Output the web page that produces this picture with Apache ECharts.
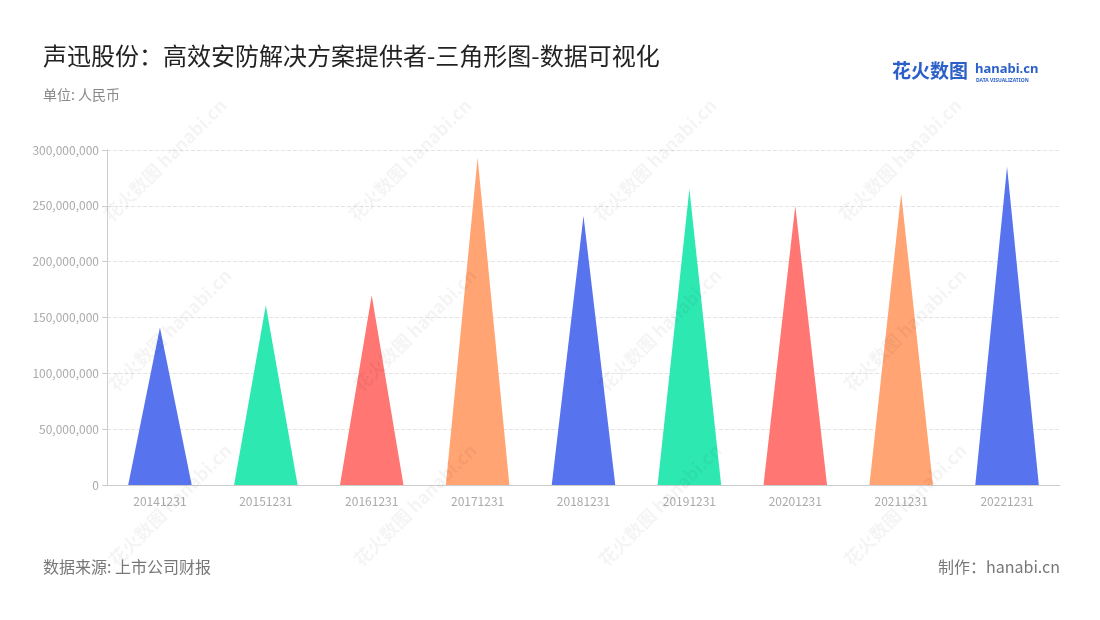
<!DOCTYPE html>
<html>
<head>
<meta charset="utf-8">
<script src="https://cdn.jsdelivr.net/npm/echarts@6/dist/echarts.min.js"></script>
<style>html,body{margin:0;padding:0;background:#fff}#main{width:1100px;height:620px}</style>
</head>
<body>
<div id="main"></div>
<script>
const categories = ['20141231','20151231','20161231','20171231','20181231','20191231','20201231','20211231','20221231'];
const values = [141000000, 161000000, 170000000, 293000000, 241000000, 265000000, 250000000, 261000000, 285000000];
const palette = ['#5773EE', '#2EE8B2', '#FF7672', '#FFA472'];

const font = '"Noto Sans CJK SC", "Noto Sans", sans-serif';
const chart = echarts.init(document.getElementById('main'));

const wm = [];
const wmPos = [[165,160],[410,160],[655,160],[900,160],[170,330],[415,330],[660,330],[905,330],[170,505],[415,505],[660,505],[905,505]];
wmPos.forEach(p => {
  wm.push({
    type: 'text', x: p[0], y: p[1], rotation: Math.PI / 4, z: 100, silent: true,
    style: { text: '花火数图 hanabi.cn', fill: 'rgba(0,0,0,0.045)', font: 'bold 18px ' + font, align: 'center', verticalAlign: 'middle' }
  });
});

chart.setOption({
  animation: false,
  backgroundColor: '#fff',
  title: [
    { text: '声迅股份：高效安防解决方案提供者-三角形图-数据可视化', left: 43, top: 44, padding: 0,
      textStyle: { fontSize: 24, fontWeight: 'normal', color: '#222', fontFamily: font } },
    { text: '单位: 人民币', left: 43, top: 88, padding: 0,
      textStyle: { fontSize: 14, fontWeight: 'normal', color: '#888', fontFamily: font } },
    { text: '数据来源: 上市公司财报', left: 43, top: 559, padding: 0,
      textStyle: { fontSize: 16, fontWeight: 'normal', color: '#777', fontFamily: font } },
    { text: '制作：hanabi.cn', right: 40, top: 559, padding: 0,
      textStyle: { fontSize: 16, fontWeight: 'normal', color: '#777', fontFamily: font } }
  ],
  graphic: wm.concat([
    { type: 'text', x: 892, y: 61, z: 110,
      style: { text: '花火数图', fill: '#2B5FC9', font: 'bold 19px ' + font } },
    { type: 'text', x: 975, y: 63, z: 110,
      style: { text: 'hanabi.cn', fill: '#2B5FC9', font: 'bold 13px "Noto Sans", sans-serif' } },
    { type: 'text', x: 976, y: 78, z: 110,
      style: { text: 'DATA VISUALIZATION', fill: '#2B5FC9', font: 'bold 5px "Noto Sans", sans-serif' } }
  ]),
  grid: { left: 107, right: 40, top: 150, bottom: 135 },
  xAxis: {
    type: 'category', data: categories,
    axisLine: { lineStyle: { color: '#ccc' } },
    axisTick: { alignWithLabel: true, lineStyle: { color: '#ccc' } },
    axisLabel: { color: '#aaa', fontSize: 12, margin: 10, fontFamily: font }
  },
  yAxis: {
    type: 'value', min: 0, max: 300000000, interval: 50000000,
    axisLine: { show: true, lineStyle: { color: '#ccc' } },
    axisTick: { show: true, lineStyle: { color: '#ccc' } },
    axisLabel: { color: '#aaa', fontSize: 12, fontFamily: font,
      formatter: v => v.toLocaleString('en-US') },
    splitLine: { lineStyle: { type: 'dashed', color: '#e3e3e3' } }
  },
  series: [{
    type: 'pictorialBar',
    barWidth: '60%',
    symbol: 'path://M0,100 L50,0 L100,100 Z',
    symbolSize: ['100%', '100%'],
    symbolKeepAspect: false,
    data: values.map((v, i) => ({ value: v, itemStyle: { color: palette[i % palette.length] } }))
  }]
});
</script>
</body>
</html>
